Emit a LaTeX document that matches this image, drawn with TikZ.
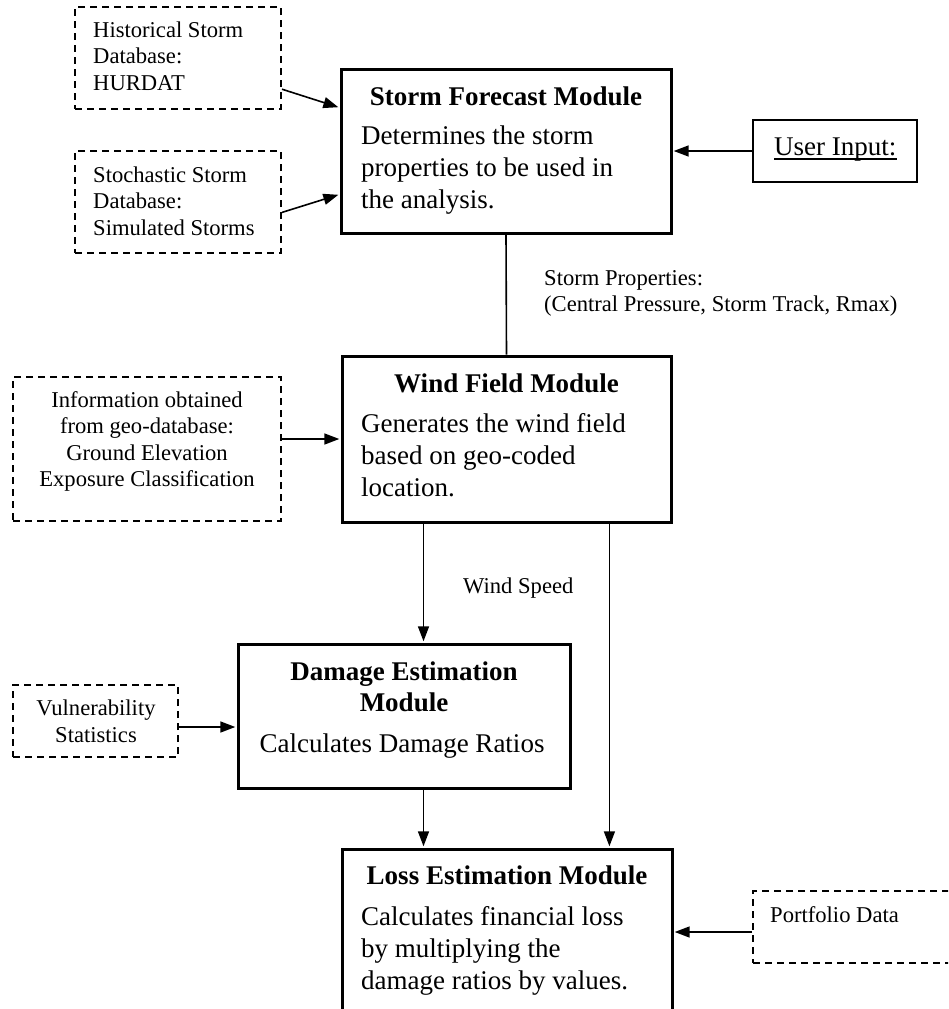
\documentclass[tikz,border=0pt]{standalone}
\usepackage{fontspec}
\setmainfont{Liberation Serif}
\usetikzlibrary{arrows.meta,calc}

% text sizes: module text and note text
\newcommand{\bodysize}{\fontsize{27}{32}\selectfont}
\newcommand{\notesize}{\fontsize{22.6}{26.5}\selectfont}
% stacked lines whose baseline is the first line's
\newcommand{\txtlines}[2][l]{\begin{tabular}[t]{@{}#1@{}}#2\end{tabular}}

\tikzset{
  module/.style={draw, line width=3pt, inner sep=0pt, fill=white},
  source/.style={draw, line width=2pt, dash pattern=on 7pt off 5pt, inner sep=0pt},
  userbox/.style={draw, line width=2pt, inner sep=0pt},
  txt/.style={inner sep=0pt},
  conn/.style={line width=1.6pt, -{Triangle[length=15pt,width=11pt]}, shorten >=1.2pt},
  plain/.style={line width=1.6pt}
}

\begin{document}
\begin{tikzpicture}[x=1pt,y=-1pt]
  \useasboundingbox (0,0) rectangle (948,1009);
  \clip (0,0) rectangle (948,1009);
  \fill[white] (0,0) rectangle (948,1009);

  % ---- boxes ----
  \node[module, minimum width=330pt, minimum height=164pt] (sfm)  at (506,151) {};
  \node[module, minimum width=329pt, minimum height=166pt] (wind) at (506.5,439) {};
  \node[module, minimum width=332pt, minimum height=144pt] (dmg)  at (404,716) {};
  \node[module, minimum width=330pt, minimum height=200pt] (loss) at (507,949) {};

  \node[source, minimum width=206pt, minimum height=102pt] (hist)  at (178,58) {};
  \node[source, minimum width=206pt, minimum height=102pt] (stoch) at (178,202) {};
  \node[source, minimum width=268pt, minimum height=144pt] (info)  at (147,449) {};
  \node[source, minimum width=165pt, minimum height=72pt]  (vuln)  at (95.5,721) {};
  \node[source, minimum width=230pt, minimum height=72pt]  (port)  at (868,927) {};
  \node[userbox, minimum width=164pt, minimum height=62pt] (ui)    at (835,151) {};

  % ---- module texts ----
  \node[txt, anchor=base] (sfmT) at (506,105) {\bodysize\bfseries Storm Forecast Module};
  \node[txt, anchor=base west] (sfmB) at (361,144)
    {\bodysize\txtlines{Determines the storm\\properties to be used in\\the analysis.}};

  \node[txt, anchor=base] (windT) at (506.5,392) {\bodysize\bfseries Wind Field Module};
  \node[txt, anchor=base west] (windB) at (361,432)
    {\bodysize\txtlines{Generates the wind field\\based on geo-coded\\location.}};

  \node[txt, anchor=base] (dmgT) at (404,680)
    {\fontsize{27}{31}\selectfont\bfseries\txtlines[c]{Damage Estimation\\Module}};
  \node[txt, anchor=base] (dmgB) at (402,752) {\bodysize Calculates Damage Ratios};

  \node[txt, anchor=base] (lossT) at (507,884) {\bodysize\bfseries Loss Estimation Module};
  \node[txt, anchor=base west] (lossB) at (361,925)
    {\bodysize\txtlines{Calculates financial loss\\by multiplying the\\damage ratios by values.}};

  % ---- source texts ----
  \node[txt, anchor=base west] (histT) at (93,37)
    {\notesize\txtlines{Historical Storm\\Database:\\HURDAT}};
  \node[txt, anchor=base west] (stochT) at (93,182)
    {\notesize\txtlines{Stochastic Storm\\Database:\\Simulated Storms}};
  \node[txt, anchor=base] (infoT) at (147,407)
    {\notesize\txtlines[c]{Information obtained\\from geo-database:\\Ground Elevation\\Exposure Classification}};
  \node[txt, anchor=base] (vulnT) at (96,715)
    {\fontsize{22.6}{27}\selectfont\txtlines[c]{Vulnerability\\Statistics}};
  \node[txt, anchor=base west] (portT) at (770,922) {\notesize Portfolio Data};

  \node[txt, anchor=base west] (uiT) at (774,155) {\bodysize User Input:};
  \draw[line width=1.5pt] ($(uiT.base west)+(0,4)$) -- ($(uiT.base east)+(0,4)$);

  % ---- connector labels ----
  \node[txt, anchor=base west] (propsL) at (544,285)
    {\fontsize{22.6}{26}\selectfont\txtlines{Storm Properties:\\(Central Pressure, Storm Track, Rmax)}};
  \node[txt, anchor=base west] (wsL) at (463,593) {\notesize Wind Speed};

  % ---- connectors ----
  \draw[conn] ($(hist.south east)!0.2!(hist.north east)$) -- ($(sfm.north west)!0.24!(sfm.south west)$);
  \draw[conn] ($(stoch.south east)!0.4!(stoch.north east)$) -- ($(sfm.south west)!0.24!(sfm.north west)$);
  \draw[conn] (ui.west) -- (sfm.east);
  \draw[plain] (sfm.south) -- (wind.north);
  \draw[conn] (info.east |- wind.west) -- (wind.west);

  \coordinate (wsx) at ($(wind.south west)!0.25!(wind.south east)$);
  \coordinate (wrx) at ($(wind.south west)!0.81!(wind.south east)$);
  \draw[conn] (wsx) -- (wsx |- dmg.north);
  \draw[conn] (wrx) -- (wrx |- loss.north);
  \draw[conn] (wsx |- dmg.south) -- (wsx |- loss.north);

  \coordinate (va) at ($(vuln.east)+(0,6)$);
  \draw[conn] (va) -- (va -| dmg.west);
  \coordinate (pa) at ($(port.west)+(0,5)$);
  \draw[conn] (pa) -- (pa -| loss.east);
\end{tikzpicture}
\end{document}
